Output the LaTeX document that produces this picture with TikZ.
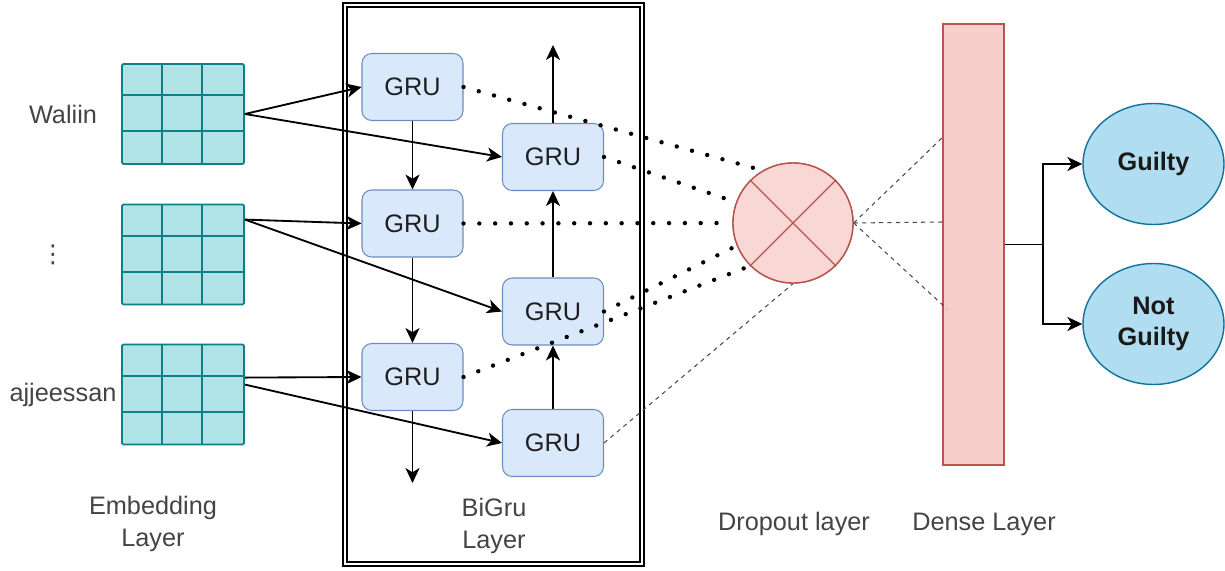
\documentclass[tikz,border=0pt]{standalone}
\usepackage{fontspec}
\setmainfont{Liberation Sans}
\newfontfamily\symbolfont{DejaVu Sans}
\usetikzlibrary{arrows.meta,calc,shapes.geometric}

\definecolor{gridfill}{HTML}{B0E3E6}
\definecolor{griddraw}{HTML}{0E8088}
\definecolor{grufill}{HTML}{DAE8FC}
\definecolor{grudraw}{HTML}{6C8EBF}
\definecolor{densefill}{HTML}{F8CECC}
\definecolor{dropfill}{HTML}{F9D7D4}
\definecolor{reddraw}{HTML}{B85450}
\definecolor{outfill}{HTML}{B1DDF0}
\definecolor{outdraw}{HTML}{10739E}
\definecolor{labeltext}{HTML}{444444}

\tikzset{
  txt/.style={font=\fontsize{14.4}{18}\selectfont},
  lbl/.style={txt, text=labeltext, align=center, inner sep=0pt},
  embbox/.style={draw=griddraw, fill=gridfill, line width=1.05pt,
    minimum width=2.44cm, minimum height=2cm, inner sep=0pt, rounded corners=0.8pt},
  gridline/.style={draw=griddraw, line width=1.05pt},
  gru/.style={draw=grudraw, fill=grufill, line width=0.6pt, rounded corners=5.5pt,
    minimum width=2.02cm, minimum height=1.34cm, inner sep=0pt, txt, text=black!88},
  arr/.style={draw=black, line width=1.05pt,
    -{Stealth[length=8.5pt,width=8pt,inset=2.4pt]}},
  dotline/.style={draw=black, line width=2.5pt, line cap=round,
    dash pattern=on 0pt off 9pt},
  thindash/.style={draw=black!70, line width=0.6pt, dash pattern=on 2.4pt off 2.4pt},
  outnode/.style={ellipse, draw=outdraw, fill=outfill, line width=0.8pt,
    minimum width=2.82cm, minimum height=2.42cm, inner sep=0pt,
    txt, font=\fontsize{14.4}{18}\selectfont\bfseries, align=center, text=black!90},
}

\begin{document}
\begin{tikzpicture}[x=0.02cm, y=-0.02cm]
\useasboundingbox (0,0) rectangle (1225,571);

% BiGRU container (double frame)
\node[draw=black, line width=0.85pt, double=white, double distance=1.6pt,
  minimum width=5.94cm, minimum height=11.18cm, inner sep=0pt] (bigru) at (493.5,284.5) {};

% embedding grids
\node[embbox] (e1) at (183,114) {};
\node[embbox] (e2) at (183,254.5) {};
\node[embbox] (e3) at (183,394.5) {};
\foreach \e in {e1,e2,e3}{
  \draw[gridline] ($(\e.north west)+(40.7,0)$) -- ($(\e.south west)+(40.7,0)$);
  \draw[gridline] ($(\e.north west)+(81.3,0)$) -- ($(\e.south west)+(81.3,0)$);
  \draw[gridline] ($(\e.north west)+(0,32)$) -- ($(\e.north east)+(0,32)$);
  \draw[gridline] ($(\e.north west)+(0,68)$) -- ($(\e.north east)+(0,68)$);
}

% input words
\node[lbl] (w1) at (63,114) {Waliin};
\node[lbl, font=\symbolfont\fontsize{14}{16}\selectfont] (w2) at (53,255) {⋮};
\node[lbl] (w3) at (63,395) {ajjeessan};

% GRU cells
\node[gru] (g1) at (412.5,87) {GRU};
\node[gru] (g2) at (412.5,223.5) {GRU};
\node[gru] (g3) at (412.5,377) {GRU};
\node[gru] (r1) at (553,157) {GRU};
\node[gru] (r2) at (553,311.5) {GRU};
\node[gru] (r3) at (553,443) {GRU};

\coordinate (fwdend) at (412.5,483);
\coordinate (bwdend) at (553,45);

% embeddings into the GRUs
\draw[arr] (e1.east) -- (g1.west);
\draw[arr] (e1.east) -- (r1.west);
\draw[arr] ($(e2.north east)+(0,16)$) -- (g2.west);
\draw[arr] ($(e2.north east)+(0,16)$) -- (r2.west);
\draw[arr] ($(e3.north east)+(0,34)$) -- (g3.west);
\draw[arr] ($(e3.north east)+(0,41)$) -- (r3.west);

% recurrent chains
\draw[arr] (g1.south) -- (g2.north);
\draw[arr] (g2.south) -- (g3.north);
\draw[arr] (g3.south) -- (fwdend);
\draw[arr] (r3.north) -- (r2.south);
\draw[arr] (r2.north) -- (r1.south);
\draw[arr] (r1.north) -- (bwdend);

% dropout
\node[circle, draw=reddraw, fill=dropfill, line width=0.8pt,
  minimum size=2.4cm, inner sep=0pt] (drop) at (793,223) {};

\draw[dotline] (g1.east) -- (drop.120);
\draw[dotline] (r1.east) -- (drop.160);
\draw[dotline] (g2.east) -- (drop.180);
\draw[dotline] (r2.east) -- (drop.202);
\draw[dotline] (g3.east) -- (drop.225);
\draw[thindash] (r3.east) -- (drop.south);

\node[circle, draw=reddraw, fill=dropfill, line width=0.8pt,
  minimum size=2.4cm, inner sep=0pt] at (drop) {};
\draw[reddraw, line width=0.8pt] (drop.45) -- (drop.225) (drop.135) -- (drop.315);

% dense layer
\node[draw=reddraw, fill=densefill, line width=0.8pt,
  minimum width=1.22cm, minimum height=8.82cm, inner sep=0pt] (dense) at (973.5,244.5) {};
\coordinate (d1) at (943,137);
\coordinate (d2) at (943,222);
\coordinate (d3) at (947,309);
\draw[thindash] (drop.east) -- (d1);
\draw[thindash] (drop.east) -- (d2);
\draw[thindash] (drop.east) -- (d3);

% outputs
\node[outnode] (gu) at (1153.5,164) {Guilty};
\node[outnode] (ng) at (1153.5,324) {Not\\Guilty};
\coordinate (split) at (1043,244.5);
\draw[line width=1.05pt] (dense.east) -- (split);
\draw[arr] (split) |- (gu.west);
\draw[arr] (split) |- (ng.west);

% layer captions
\node[lbl] (cemb) at (153,524) {Embedding\\Layer};
\node[lbl] (cgru) at (494,526) {BiGru\\Layer};
\node[lbl] (cdrop) at (794,524) {Dropout layer};
\node[lbl] (cdense) at (984,524) {Dense Layer};
\end{tikzpicture}
\end{document}
